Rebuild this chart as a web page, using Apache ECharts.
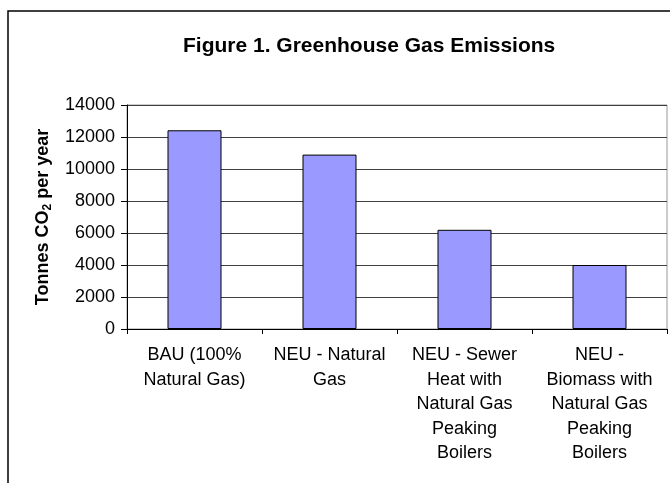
<!DOCTYPE html>
<html>
<head>
<meta charset="utf-8">
<script src="https://cdn.jsdelivr.net/npm/echarts@6/dist/echarts.min.js"></script>
<style>html,body{margin:0;padding:0;background:#fff;}#c{width:670px;height:483px;}</style>
</head>
<body>
<div id="c"></div>
<script>
const titleText = 'Figure 1. Greenhouse Gas Emissions';
const categories = [
  'BAU (100%\nNatural Gas)',
  'NEU - Natural\nGas',
  'NEU - Sewer\nHeat with\nNatural Gas\nPeaking\nBoilers',
  'NEU -\nBiomass with\nNatural Gas\nPeaking\nBoilers'
];
const emissions = [12420, 10900, 6200, 4000];
const yMin = 0, yMax = 14000, yStep = 2000;

const chart = echarts.init(document.getElementById('c'), null, {renderer: 'canvas'});
chart.setOption({
  animation: false,
  backgroundColor: '#fff',
  textStyle: {fontFamily: 'Liberation Sans, Arial, sans-serif'},
  title: {
    text: titleText,
    left: 178, top: 31,
    textStyle: {fontSize: 21, fontWeight: 'bold', color: '#000', fontFamily: 'Liberation Sans, Arial, sans-serif'}
  },
  graphic: [{
    type: 'rect', silent: true, z: -1,
    shape: {x: 8, y: 11, width: 720, height: 520},
    style: {fill: 'none', stroke: '#000', lineWidth: 1.5}
  }],
  grid: {left: 127, right: 3, top: 105, bottom: 154, show: true, borderColor: '#999', borderWidth: 1, backgroundColor: 'transparent'},
  xAxis: {
    type: 'category',
    data: categories,
    axisLine: {lineStyle: {color: '#000', width: 1}},
    axisTick: {show: true, length: 5, lineStyle: {color: '#000'}},
    axisLabel: {fontSize: 18, color: '#000', lineHeight: 24.5, margin: 14, interval: 0, fontFamily: 'Liberation Sans, Arial, sans-serif'}
  },
  yAxis: {
    type: 'value',
    min: yMin, max: yMax, interval: yStep,
    name: '{a|Tonnes CO}{s|2}{a| per year}',
    nameLocation: 'middle',
    nameGap: 66,
    nameRotate: 90,
    nameTextStyle: {
      rich: {
        a: {fontSize: 18, fontWeight: 'bold', color: '#000', fontFamily: 'Liberation Sans, Arial, sans-serif', lineHeight: 22},
        s: {fontSize: 12, fontWeight: 'bold', color: '#000', fontFamily: 'Liberation Sans, Arial, sans-serif', verticalAlign: 'bottom', lineHeight: 22, padding: [8, 0, 0, 0]}
      }
    },
    axisLine: {show: true, lineStyle: {color: '#000', width: 1}},
    axisTick: {show: true, length: 6, lineStyle: {color: '#000'}},
    axisLabel: {fontSize: 18, color: '#000', margin: 12, formatter: function (v) { return String(v); }, fontFamily: 'Liberation Sans, Arial, sans-serif'},
    splitLine: {show: true, lineStyle: {color: '#404040', width: 1}}
  },
  series: [{
    type: 'bar',
    data: emissions,
    barWidth: 54,
    itemStyle: {color: '#9999FF', borderColor: '#000', borderWidth: 1}
  }]
});
</script>
</body>
</html>
